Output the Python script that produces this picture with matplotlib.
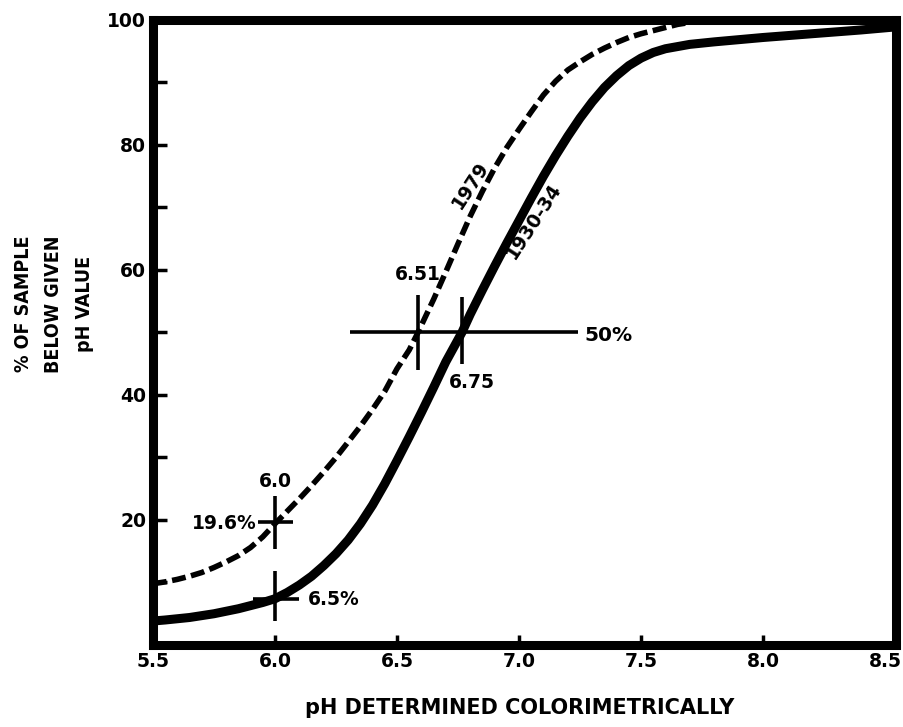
import matplotlib
matplotlib.use("Agg")
import matplotlib.pyplot as plt

# curve readings (pH, % of sample below given pH)
ph_1930 = [5.49, 5.55, 5.6, 5.65, 5.7, 5.75, 5.8, 5.85, 5.9, 5.95, 6.0, 6.05, 6.1, 6.15,
           6.2, 6.25, 6.3, 6.35, 6.4, 6.45, 6.5, 6.55, 6.6, 6.65, 6.7, 6.766, 6.8, 6.85,
           6.9, 6.95, 7.0, 7.05, 7.1, 7.15, 7.2, 7.25, 7.3, 7.35, 7.4, 7.45, 7.5, 7.55,
           7.6, 7.7, 7.8, 8.0, 8.2, 8.4, 8.545]
pct_1930 = [3.8, 4.0, 4.2, 4.4, 4.7, 5.0, 5.4, 5.8, 6.3, 6.8, 7.4, 8.4, 9.6, 11.0,
            12.7, 14.6, 16.8, 19.4, 22.4, 25.8, 29.5, 33.3, 37.2, 41.2, 45.3, 50.0, 52.9, 56.8,
            60.6, 64.3, 67.9, 71.5, 75.0, 78.3, 81.4, 84.3, 86.9, 89.2, 91.1, 92.7, 93.9, 94.8,
            95.4, 96.1, 96.5, 97.2, 97.8, 98.4, 98.9]

ph_1979 = [5.5, 5.55, 5.6, 5.65, 5.7, 5.75, 5.8, 5.85, 5.9, 5.95, 6.0, 6.05, 6.1, 6.15,
           6.2, 6.25, 6.3, 6.35, 6.4, 6.45, 6.5, 6.55, 6.586, 6.65, 6.7, 6.75, 6.8, 6.85,
           6.9, 6.95, 7.0, 7.05, 7.1, 7.15, 7.2, 7.25, 7.3, 7.35, 7.4, 7.45, 7.5, 7.55,
           7.6, 7.65, 7.7]
pct_1979 = [9.8, 10.1, 10.5, 11.0, 11.6, 12.4, 13.3, 14.3, 15.6, 17.3, 19.4, 21.4, 23.4, 25.5,
            27.7, 30.0, 32.5, 35.0, 37.7, 40.6, 44.2, 47.2, 50.0, 55.3, 59.7, 64.2, 68.6, 72.6,
            76.3, 79.6, 82.5, 85.3, 88.0, 90.2, 92.0, 93.3, 94.5, 95.5, 96.4, 97.2, 97.8, 98.3,
            98.8, 99.3, 99.6]

x_ticks = [5.5, 6.0, 6.5, 7.0, 7.5, 8.0, 8.5]
x_labels = ["5.5", "6.0", "6.5", "7.0", "7.5", "8.0", "8.5"]
y_ticks = [20, 40, 60, 80, 100]
y_labels = ["20", "40", "60", "80", "100"]
y_minor = [10, 30, 50, 70, 90]

bold = dict(family="DejaVu Sans", fontweight="bold", color="black")

fig = plt.figure(figsize=(9.04, 7.27), dpi=100)
ax = fig.add_axes([0.1692, 0.1128, 0.822, 0.8597])

ax.plot(ph_1930, pct_1930, color="black", lw=6.5,
        solid_capstyle="butt", solid_joinstyle="round")
ax.plot(ph_1979, pct_1979, color="black", lw=4, dashes=(2.5, 1.0),
        dash_capstyle="butt", dash_joinstyle="round")

# 50 % crossing
mk = dict(color="black", lw=2.6, solid_capstyle="butt")
ax.plot([6.307, 7.24], [50, 50], **mk)
ax.plot([6.586, 6.586], [44, 56], **mk)
ax.plot([6.766, 6.766], [45, 55.7], **mk)
# pH 6.0 crossings
ax.plot([6.0, 6.0], [15.4, 23.9], **mk)
ax.plot([5.93, 6.074], [19.6, 19.6], **mk)
ax.plot([6.0, 6.0], [3.8, 11.8], **mk)
ax.plot([5.91, 6.10], [7.3, 7.3], **mk)

ax.text(6.0, 26.2, "6.0", ha="center", va="center", fontsize=13.5, **bold)
ax.text(5.926, 19.5, "19.6%", ha="right", va="center", fontsize=13.5, **bold)
ax.text(6.135, 7.3, "6.5%", ha="left", va="center", fontsize=13.5, **bold)
ax.text(6.584, 59.2, "6.51", ha="center", va="center", fontsize=13.5, **bold)
ax.text(6.807, 42.0, "6.75", ha="center", va="center", fontsize=13.5, **bold)
ax.text(7.27, 49.5, "50%", ha="left", va="center", fontsize=14.5, **bold)
ax.text(6.80, 73.6, "1979", ha="center", va="center", rotation=57,
        rotation_mode="anchor", fontsize=13.5, **bold)
ax.text(7.06, 67.8, "1930-34", ha="center", va="center", rotation=57,
        rotation_mode="anchor", fontsize=13.5, **bold)

ax.set_xlim(5.5, 8.545)
ax.set_ylim(0, 100)
ax.set_xticks(x_ticks)
ax.set_xticklabels(x_labels, fontsize=13.5, **bold)
ax.set_yticks(y_ticks)
ax.set_yticklabels(y_labels, fontsize=13.5, **bold)
ax.set_yticks(y_minor, minor=True)
ax.tick_params(axis="x", direction="in", length=7, width=2.5, pad=5)
ax.tick_params(axis="y", which="both", direction="in", length=10, width=2.5, pad=5)
for t in (ax.xaxis.get_major_ticks()[0], ax.xaxis.get_major_ticks()[-1]):
    t.tick1line.set_visible(False)

for s in ax.spines.values():
    s.set_linewidth(6.5)
    s.set_capstyle("projecting")

fig.text(520 / 904, 1 - 708 / 727, "pH DETERMINED COLORIMETRICALLY",
         ha="center", va="center", fontsize=15, **bold)
fig.text(54 / 904, 1 - 304 / 727, "% OF SAMPLE\nBELOW GIVEN\npH VALUE",
         ha="center", va="center", rotation=90, multialignment="center",
         linespacing=1.75, fontsize=14, family="DejaVu Sans", fontweight="bold",
         fontstretch="condensed")

fig.savefig("out.png", dpi=100, facecolor="white")
